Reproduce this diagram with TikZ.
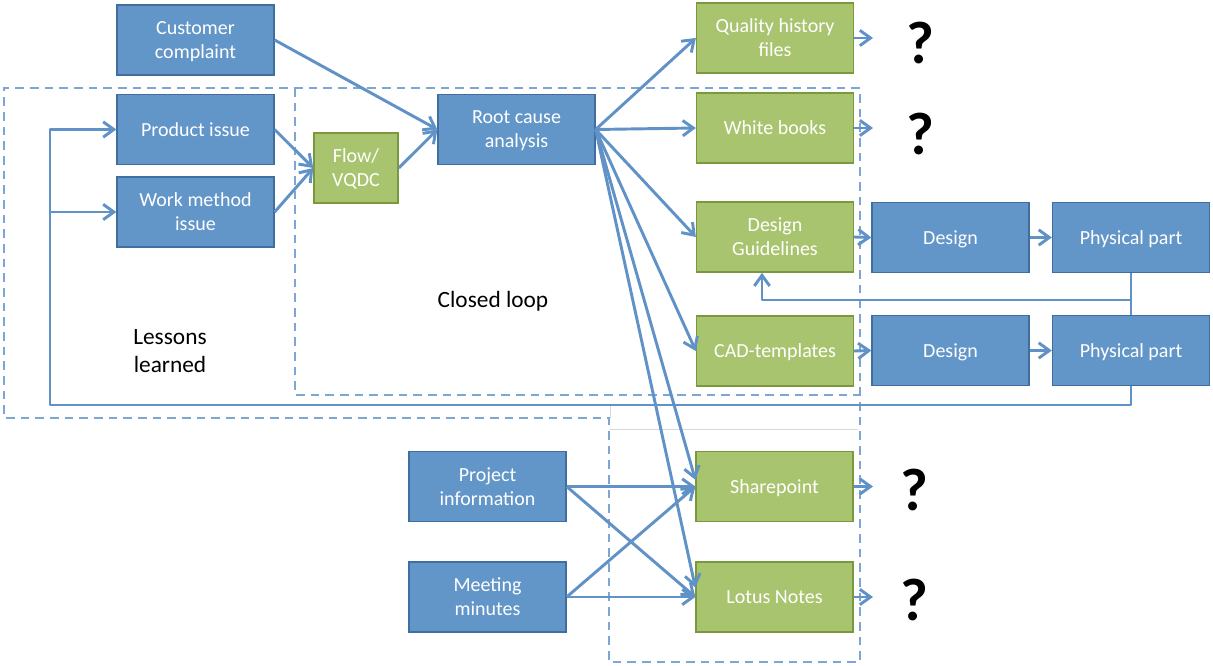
\documentclass[tikz,border=0pt]{standalone}
\usepackage{fontspec}
\setmainfont{Carlito}
\usetikzlibrary{arrows.meta}
\definecolor{boxblue}{RGB}{98,149,200}
\definecolor{edgeblue}{RGB}{64,110,158}
\definecolor{boxgreen}{RGB}{169,196,110}
\definecolor{edgegreen}{RGB}{122,152,62}
\definecolor{linkblue}{RGB}{96,146,199}
\definecolor{dashblue}{RGB}{125,166,210}
\begin{document}
\begin{tikzpicture}[x=0.75pt,y=-0.75pt,
  basebox/.style={line width=1.2pt, minimum width=117.5pt, minimum height=52.5pt,
    inner sep=0pt, align=center, text=white, text depth=0pt,
    font=\fontsize{15}{18}\selectfont},
  bluebox/.style={basebox, draw=edgeblue, fill=boxblue},
  greenbox/.style={basebox, draw=edgegreen, fill=boxgreen},
  arr/.style={draw=linkblue, line width=2.2pt, line join=round,
    -{Straight Barb[length=8pt,width=11.5pt,line width=2.2pt]}},
  link/.style={draw=linkblue, line width=2.2pt, line join=round},
  region/.style={draw=dashblue, line width=2.2pt, dash pattern=on 6.5pt off 4.5pt},
  lbl/.style={align=center, font=\fontsize{17.5}{20.5}\selectfont},
  qmark/.style={font=\fontsize{45}{45}\selectfont\bfseries, inner sep=0pt}
]
\useasboundingbox (0,0) rectangle (1213,666);

% Lessons-learned region (L-shaped) and the closed-loop region inside it
\draw[region] (860,88) -- (4,88) -- (4,418) -- (609,418) -- (609,662) -- (860,662) -- cycle;
\draw[region] (295,88) -- (295,395) -- (860,395);
% faint frame lines of the lower text area
\draw[gray!30, line width=0.6pt] (610,429) -- (858,429);
\draw[gray!30, line width=0.6pt] (610,404) -- (610,418);

% input boxes
\node[bluebox] (cust) at (195.5,40)  {Customer\\complaint};
\node[bluebox] (prod) at (195.5,129.5) {Product issue};
\node[bluebox] (work) at (195.5,212) {Work method\\issue};
\node[greenbox, minimum width=63pt] (flow) at (356,168) {Flow/\\VQDC};
\node[bluebox] (root) at (516.5,129.5) {Root cause\\analysis};

% knowledge stores
\node[greenbox] (qh)  at (775,38)    {Quality history\\files};
\node[greenbox] (wb)  at (775,128)   {White books};
\node[greenbox] (dg)  at (775,237)   {Design\\Guidelines};
\node[greenbox] (cad) at (775,351)   {CAD-templates};
\node[greenbox] (sp)  at (774.5,486.5) {Sharepoint};
\node[greenbox] (ln)  at (774.5,597) {Lotus Notes};

% design chain
\node[bluebox] (des1) at (950.5,237.5) {Design};
\node[bluebox] (pp1)  at (1131,237.5)  {Physical part};
\node[bluebox] (des2) at (950.5,350.5) {Design};
\node[bluebox] (pp2)  at (1131,350.5)  {Physical part};

% project sources
\node[bluebox] (proj) at (487.5,486.5) {Project\\information};
\node[bluebox] (meet) at (487.5,597)   {Meeting\\minutes};

% region labels
\node[lbl] (lessons) at (170,351) {Lessons\\learned};
\node[lbl] (closed)  at (493,301) {Closed loop};

% open questions
\coordinate (q1a) at (873,38);
\coordinate (q2a) at (873,128);
\coordinate (q3a) at (873,486.5);
\coordinate (q4a) at (873,597);
\node[qmark] (q1) at (920,43)  {?};
\node[qmark] (q2) at (920,134) {?};
\node[qmark] (q3) at (914,490) {?};
\node[qmark] (q4) at (914,600) {?};

% feedback junctions
\coordinate (fbl) at (50,405);
\coordinate (dgin) at (762,300);

% connectors
\draw[arr] (cust.east) -- (root.west);
\draw[arr] (prod.east) -- (flow.west);
\draw[arr] (work.east) -- (flow.west);
\draw[arr] (flow.east) -- (root.west);

\draw[arr] (root.east) -- (qh.west);
\draw[arr] (root.east) -- (wb.west);
\draw[arr] (root.east) -- (dg.west);
\draw[arr] (root.east) -- (cad.west);
\draw[arr] (root.east) -- ([yshift=5pt]sp.west);
\draw[arr] (root.east) -- ([yshift=7pt]ln.west);

\draw[arr] (proj.east) -- (sp.west);
\draw[arr] (proj.east) -- (ln.west);
\draw[arr] (meet.east) -- (sp.west);
\draw[arr] (meet.east) -- (ln.west);

\draw[arr] (qh.east) -- (q1a);
\draw[arr] (wb.east) -- (q2a);
\draw[arr] (sp.east) -- (q3a);
\draw[arr] (ln.east) -- (q4a);

\draw[arr] (dg.east) -- (des1.west);
\draw[arr] (des1.east) -- (pp1.west);
\draw[arr] (cad.east) -- (des2.west);
\draw[arr] (des2.east) -- (pp2.west);

% feedback from the first physical part to the design guidelines
\draw[link] (pp1.south) -- (pp2.north);
\draw[arr] (pp1.south) |- (dgin) -- (dgin |- dg.south);

% lessons-learned feedback loop
\draw[arr] (pp2.south) |- (fbl) |- (prod.west);
\draw[arr] (fbl |- work.west) -- (work.west);
\end{tikzpicture}
\end{document}
